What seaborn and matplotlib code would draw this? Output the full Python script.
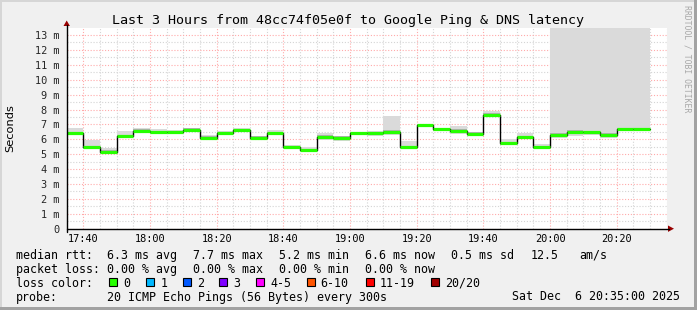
import matplotlib
matplotlib.use("Agg")
import matplotlib.pyplot as plt
import matplotlib.patches as mpatches
import numpy as np
import pandas as pd
import seaborn as sns

# ---------------- data ----------------
step_starts = ["17:35", "17:40", "17:45", "17:50", "17:55", "18:00", "18:05", "18:10",
               "18:15", "18:20", "18:25", "18:30", "18:35", "18:40", "18:45", "18:50",
               "18:55", "19:00", "19:05", "19:10", "19:15", "19:20", "19:25", "19:30",
               "19:35", "19:40", "19:45", "19:50", "19:55", "20:00", "20:05", "20:10",
               "20:15", "20:20", "20:25"]
median_ms = [6.43, 5.45, 5.18, 6.23, 6.59, 6.50, 6.48, 6.64, 6.12, 6.41, 6.61, 6.12,
             6.43, 5.49, 5.28, 6.17, 6.10, 6.43, 6.43, 6.52, 5.49, 6.93, 6.68, 6.59,
             6.37, 7.66, 5.72, 6.14, 5.45, 6.30, 6.52, 6.50, 6.30, 6.66, 6.70]
smoke_lo_ms = [6.30, 5.38, 5.07, 6.12, 6.39, 6.34, 6.34, 6.50, 6.01, 6.30, 6.48, 6.03,
               6.34, 5.40, 5.14, 5.94, 5.90, 6.34, 6.25, 6.30, 5.32, 6.84, 6.57, 6.34,
               6.25, 7.55, 5.63, 6.03, 5.36, 6.08, 6.25, 6.30, 6.12, 6.57, 6.57]
smoke_hi_ms = [6.75, 5.92, 5.40, 6.57, 6.75, 6.70, 6.61, 6.70, 6.26, 6.57, 6.77, 6.21,
               6.61, 5.63, 5.45, 6.39, 6.21, 6.52, 6.57, 7.57, 5.90, 7.02, 6.79, 6.88,
               6.52, 7.91, 6.03, 6.39, 5.70, 13.6, 13.6, 13.6, 13.6, 13.6, 13.6]
x_tick_labels = ["17:40", "18:00", "18:20", "18:40", "19:00", "19:20", "19:40", "20:00", "20:20"]
y_tick_values = list(range(0, 14))
y_tick_labels = ["0"] + [f"{v} m" for v in range(1, 14)]
window_start = "17:35"
window_end = "20:35"
step_minutes = 5

loss_labels = ["0", "1", "2", "3", "4-5", "6-10", "11-19", "20/20"]
loss_colors = ["#26ff00", "#00b8ff", "#0059ff", "#7e00ff", "#ff00ff", "#ff5500", "#ff0000", "#a10000"]

rtt_stats = ["6.3 ms avg", "7.7 ms max", "5.2 ms min", "6.6 ms now", "0.5 ms sd", "12.5", "am/s"]
loss_stats = ["0.00 % avg", "0.00 % max", "0.00 % min", "0.00 % now"]
probe_text = "20 ICMP Echo Pings (56 Bytes) every 300s"
stamp_text = "Sat Dec  6 20:35:00 2025"
title_text = "Last 3 Hours from 48cc74f05e0f to Google Ping & DNS latency"


def to_min(s):
    h, m = s.split(":")
    return int(h) * 60 + int(m)


t0 = to_min(window_start)
xs = np.array([to_min(s) - t0 for s in step_starts], dtype=float)
xe = xs + step_minutes
x_ext = np.append(xs, xe[-1])
med_ext = np.append(median_ms, median_ms[-1])
lo_ext = np.append(smoke_lo_ms, smoke_lo_ms[-1])
hi_ext = np.append(smoke_hi_ms, smoke_hi_ms[-1])
df = pd.DataFrame({"t": x_ext, "median": med_ext})

# ---------------- style ----------------
sns.set_style("white")
plt.rcParams["font.family"] = ["DejaVu Sans Mono", "DejaVu Sans"]

W, H = 697, 310
BG = "#f0f0f0"
fig = plt.figure(figsize=(W / 100, H / 100), dpi=100, facecolor=BG)


def fx(px):
    return px / W


def fy(py):
    return 1 - py / H


ax_left, ax_right, ax_top, ax_bot = 66.7, 666.7, 28.3, 228.7
ax = fig.add_axes([fx(ax_left), fy(ax_bot), fx(ax_right - ax_left), (ax_bot - ax_top) / H])
ax.set_facecolor("white")
xmax = to_min(window_end) - t0
ymax = 13.45
ax.set_xlim(0, xmax)
ax.set_ylim(0, ymax)

# grid
ax.set_xticks([to_min(s) - t0 for s in x_tick_labels])
ax.set_xticklabels(x_tick_labels)
ax.set_xticks(np.arange(0, xmax + 0.1, step_minutes), minor=True)
ax.set_yticks(y_tick_values)
ax.set_yticklabels(y_tick_labels)
ax.set_yticks(np.arange(0.5, ymax, 0.5), minor=True)
dot = (0, (1, 1.6))
ax.grid(which="minor", color="#d4d4d4", lw=0.8, ls=dot, zorder=0)
ax.grid(which="major", color="#ffaaaa", lw=0.8, ls=dot, zorder=0)
ax.set_axisbelow(True)

# smoke
ax.fill_between(x_ext, lo_ext, hi_ext, step="post", color="#dadada", lw=0, zorder=1)
ax.fill_between(x_ext, med_ext - 0.09, med_ext + 0.09, step="post", color="#b0b0b0", lw=0, zorder=1)

# median: black step line + loss colored segments
sns.lineplot(data=df, x="t", y="median", drawstyle="steps-post", color="black", lw=1.0,
             ax=ax, zorder=3, legend=False)
ax.hlines(median_ms, xs, xe, colors=loss_colors[0], lw=2.3, zorder=4)
ax.set_xlabel("")
ax.set_ylabel("")

for sp in ["top", "right"]:
    ax.spines[sp].set_visible(False)
for sp in ["left", "bottom"]:
    ax.spines[sp].set_visible(False)

tick_font = dict(family="DejaVu Sans Mono", size=7.4)
ax.tick_params(axis="x", which="major", length=3, width=0.7, direction="inout", pad=2.2,
               colors="black", labelsize=7.4)
ax.tick_params(axis="x", which="minor", length=3, width=0.7, direction="inout", color="black")
ax.tick_params(axis="y", which="major", length=2.5, width=0.7, direction="out", pad=3.0, labelsize=7.4)
ax.tick_params(axis="y", which="minor", length=0)
for lab in ax.get_xticklabels() + ax.get_yticklabels():
    lab.set_family("DejaVu Sans Mono")

# axes lines with arrows (figure pixel space)
fig.add_artist(plt.Line2D([fx(ax_left), fx(669)], [fy(ax_bot), fy(ax_bot)], color="black", lw=1.0))
fig.add_artist(plt.Line2D([fx(ax_left), fx(ax_left)], [fy(ax_bot + 3), fy(25)], color="black", lw=1.0))
fig.add_artist(mpatches.Polygon([[fx(668), fy(ax_bot - 3.2)], [fx(674), fy(ax_bot)], [fx(668), fy(ax_bot + 3.2)]],
                                closed=True, color="#990000", lw=0))
fig.add_artist(mpatches.Polygon([[fx(ax_left - 3.2), fy(26)], [fx(ax_left), fy(20.5)], [fx(ax_left + 3.2), fy(26)]],
                                closed=True, color="#990000", lw=0))

# title, labels, watermark
fig.text(fx(348), fy(24), title_text, ha="center", va="baseline", fontsize=9.6,
         family="DejaVu Sans Mono", color="black")
fig.text(fx(10), fy(128), "Seconds", rotation=90, ha="center", va="center", fontsize=8.2,
         family="DejaVu Sans", color="black")
fig.text(fx(687.5), fy(59), "RRDTOOL / TOBI OETIKER", rotation=270, ha="center", va="center",
         fontsize=5.9, family="DejaVu Sans Mono", color="#a8a8a8")

# legend
lf = dict(fontsize=8.4, family="DejaVu Sans Mono", color="black", va="baseline", ha="left")
rows_y = [258.7, 272.7, 286.7, 300.5]
fig.text(fx(15.5), fy(rows_y[0]), "median rtt:", **lf)
for txt, px in zip(rtt_stats, [107, 193, 279, 365, 451, 530.5, 579]):
    fig.text(fx(px), fy(rows_y[0]), txt, **lf)
fig.text(fx(15.5), fy(rows_y[1]), "packet loss:", **lf)
for txt, px in zip(loss_stats, [107, 193, 279, 365]):
    fig.text(fx(px), fy(rows_y[1]), txt, **lf)
fig.text(fx(15.5), fy(rows_y[2]), "loss color:", **lf)
box_x = [108.7, 145.7, 182.7, 219.3, 256, 306.7, 365.7, 430.7]
lab_x = [124, 160.7, 197.3, 234, 270.7, 321, 380, 445.3]
for lbl, col, bx, lx in zip(loss_labels, loss_colors, box_x, lab_x):
    fig.add_artist(mpatches.Rectangle((fx(bx), fy(286.3)), 8 / W, 8.6 / H, facecolor=col,
                                      edgecolor="black", lw=0.8))
    fig.text(fx(lx - 0.5), fy(rows_y[2]), lbl, **lf)
fig.text(fx(15.5), fy(rows_y[3]), "probe:", **lf)
fig.text(fx(107), fy(rows_y[3]), probe_text, **lf)
fig.text(fx(680.5), fy(rows_y[3]), stamp_text, **{**lf, "ha": "right"})

# frame shading
fig.add_artist(mpatches.Rectangle((0, fy(2)), 1, 2 / H, facecolor="#d6d6d6", lw=0))
fig.add_artist(mpatches.Rectangle((0, 0), 2 / W, 1, facecolor="#d6d6d6", lw=0))
fig.add_artist(mpatches.Rectangle((fx(694), 0), 3 / W, 1, facecolor="#a2a2a2", lw=0))
fig.add_artist(mpatches.Rectangle((0, 0), 1, 3 / H, facecolor="#a2a2a2", lw=0))

fig.savefig("out.png", dpi=100, facecolor=BG)
